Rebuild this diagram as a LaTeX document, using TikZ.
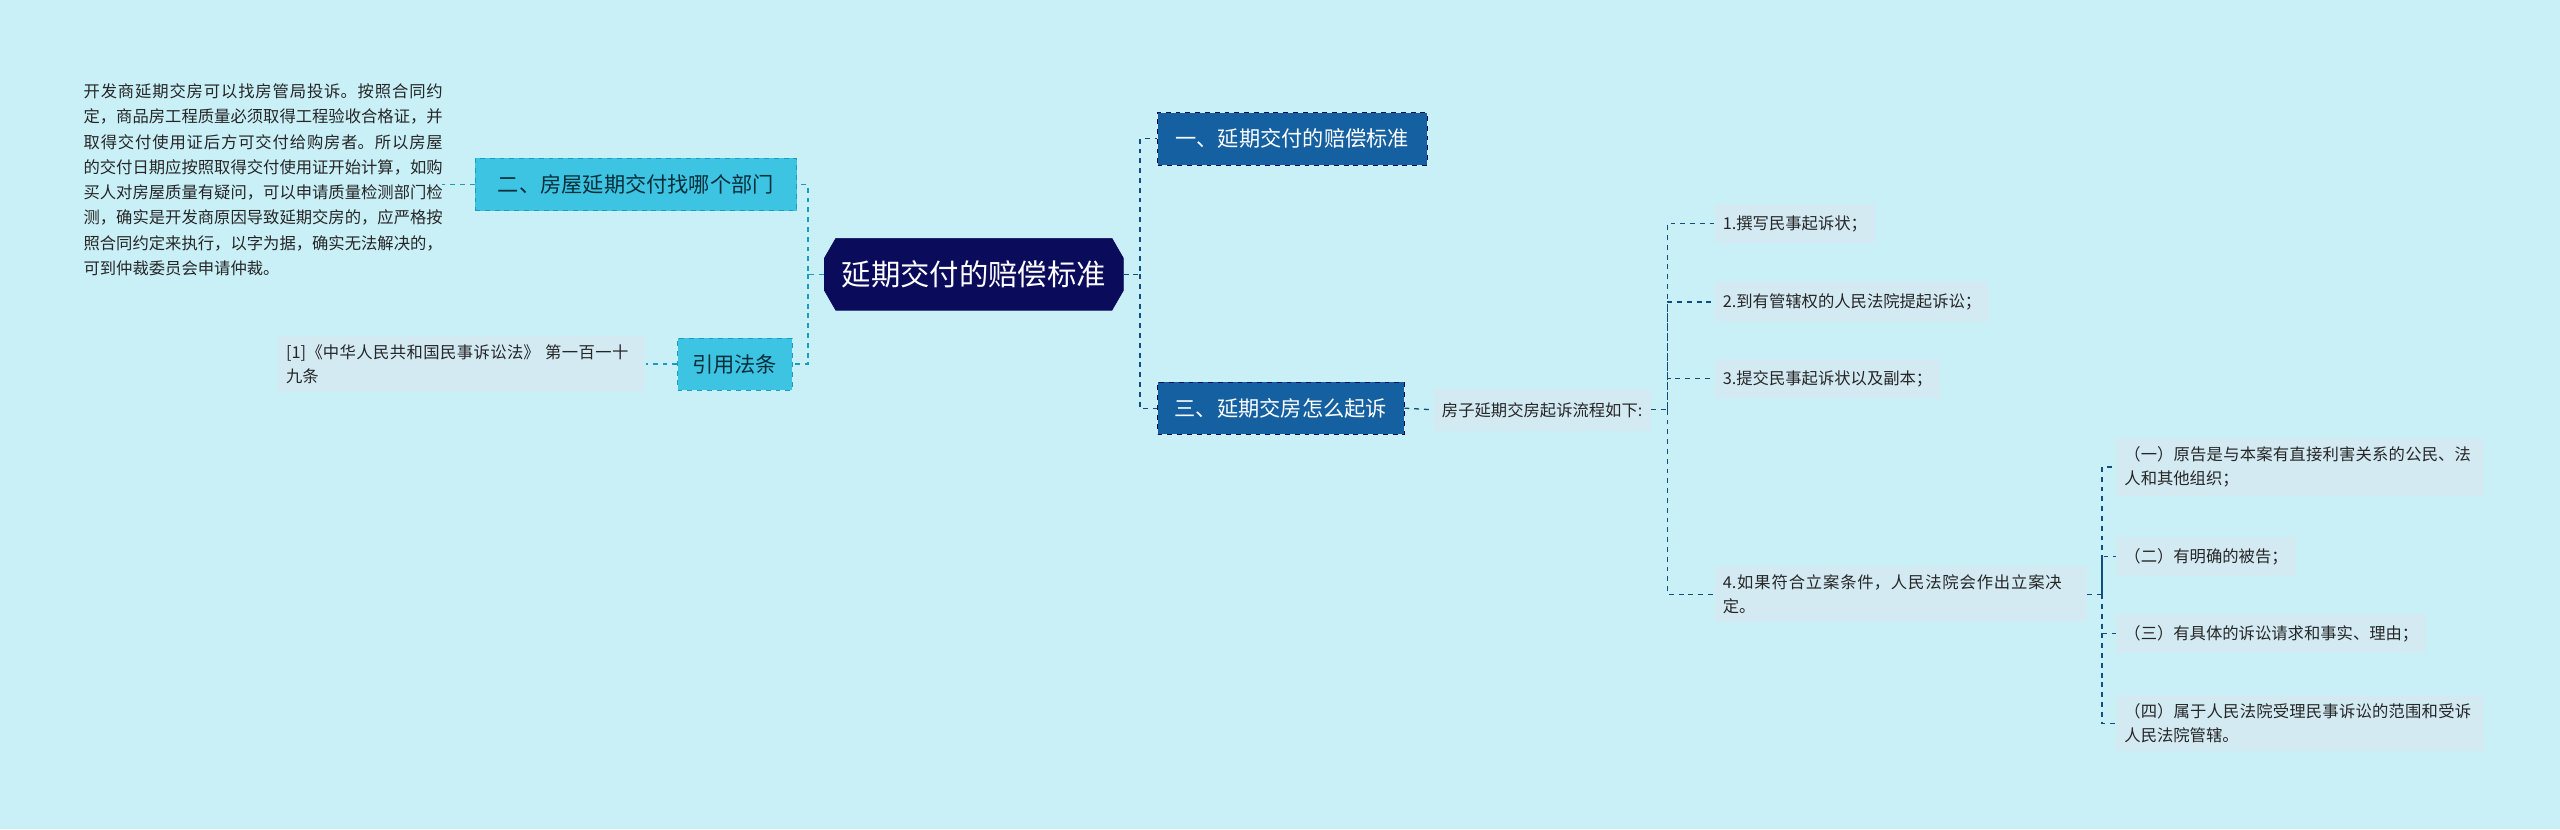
\documentclass[tikz,border=0pt]{standalone}
\usepackage{fontspec}
\setmainfont{Noto Sans CJK SC}
\XeTeXlinebreaklocale "zh"
\XeTeXlinebreakskip=0pt plus 1pt
\usetikzlibrary{shapes.misc}
\definecolor{bg}{HTML}{C9EFF7}
\definecolor{navy}{HTML}{0B0B5C}
\definecolor{dblue}{HTML}{1560A0}
\definecolor{cyanb}{HTML}{3DC4E3}
\definecolor{leaf}{HTML}{D3EAF3}
\definecolor{teal}{HTML}{1B9BBF}
\tikzset{
 central/.style={chamfered rectangle,chamfered rectangle xsep=8pt,chamfered rectangle angle=30,fill=navy,text=white,font=\fontsize{18}{22}\selectfont,minimum width=183pt,minimum height=44pt,inner sep=0pt,draw=navy},
 lbr/.style={fill=cyanb,draw=teal,dashed,text=black!70!teal,font=\fontsize{13}{16}\selectfont,minimum height=32pt,inner sep=4pt},
 rbr/.style={fill=dblue,draw=navy,dashed,text=white,font=\fontsize{13}{16}\selectfont,minimum height=32pt,inner sep=4pt},
 lf/.style={fill=leaf,text=black!85,font=\fontsize{10}{15}\selectfont,align=left,inner sep=5pt,anchor=west},
 lc/.style={draw=teal,dashed,thick},
 rc/.style={draw=dblue!80!black,dashed,thick},
}
\begin{document}
\begin{tikzpicture}[x=1pt,y=-1pt]
\fill[bg] (0,0) rectangle (1568,508);
\useasboundingbox (0,0) rectangle (1568,508);
\node[central] (c) at (596.5,168) {延期交付的赔偿标准};
\node[lbr,minimum width=197pt] (l1) at (389.5,113) {二、房屋延期交付找哪个部门};
\node[lbr,minimum width=70pt] (l2) at (450,223) {引用法条};
\node[font=\fontsize{10}{15.5}\selectfont,text width=220pt,align=justify,anchor=north west,inner sep=0pt,text=black!85] (p) at (51,51) {开发商延期交房可以找房管局投诉。按照合同约定，商品房工程质量必须取得工程验收合格证，并取得交付使用证后方可交付给购房者。所以房屋的交付日期应按照取得交付使用证开始计算，如购买人对房屋质量有疑问，可以申请质量检测部门检测，确实是开发商原因导致延期交房的，应严格按照合同约定来执行，以字为据，确实无法解决的，可到仲裁委员会申请仲裁。};
\node[lf,text width=215pt] (law) at (170,223) {[1]《中华人民共和国民事诉讼法》 第一百一十九条};
\node[rbr,minimum width=165pt] (r1) at (791.5,85) {一、延期交付的赔偿标准};
\node[rbr,minimum width=151pt] (r3) at (784.5,250) {三、延期交房怎么起诉};
\node[lf,minimum height=26pt] (f) at (878,251) {房子延期交房起诉流程如下:};
\node[lf,minimum height=24pt] (s1) at (1050,137) {1.撰写民事起诉状；};
\node[lf,minimum height=24pt] (s2) at (1050,185) {2.到有管辖权的人民法院提起诉讼；};
\node[lf,minimum height=24pt] (s3) at (1050,232) {3.提交民事起诉状以及副本；};
\node[lf,text width=218pt] (s4) at (1050,364) {4.如果符合立案条件，人民法院会作出立案决定。};
\node[lf,text width=215pt] (t1) at (1296,286) {（一）原告是与本案有直接利害关系的公民、法人和其他组织；};
\node[lf,minimum height=24pt] (t2) at (1296,341) {（二）有明确的被告；};
\node[lf,minimum height=24pt] (t3) at (1296,388) {（三）有具体的诉讼请求和事实、理由；};
\node[lf,text width=215pt] (t4) at (1296,443) {（四）属于人民法院受理民事诉讼的范围和受诉人民法院管辖。};
\draw[lc] (c.west) -- ++(-10,0) coordinate (lj) |- (l1.east);
\draw[lc] (lj) |- (l2.east);
\draw[lc] (l1.west) -- ++(-20,0);
\draw[lc] (l2.west) -- (law.east);
\draw[rc] (c.east) -- ++(10,0) coordinate (rj) |- (r1.west);
\draw[rc] (rj) |- (r3.west);
\draw[rc] (r3.east) -- (f.west);
\draw[rc] (f.east) -- ++(10,0) coordinate (fj) |- (s1.west);
\draw[rc] (fj) |- (s2.west);
\draw[rc] (fj) |- (s3.west);
\draw[rc] (fj) |- (s4.west);
\draw[rc] (s4.east) -- ++(9,0) coordinate (sj) |- (t1.west);
\draw[rc] (sj) |- (t2.west);
\draw[rc] (sj) |- (t3.west);
\draw[rc] (sj) |- (t4.west);
\end{tikzpicture}
\end{document}
